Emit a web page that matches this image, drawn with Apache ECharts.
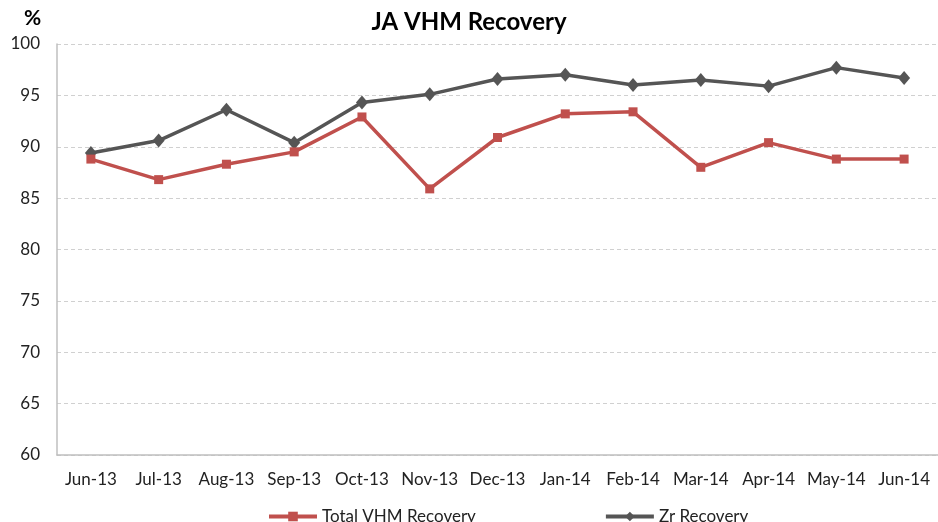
<!DOCTYPE html>
<html>
<head>
<meta charset="utf-8">
<script src="https://cdn.jsdelivr.net/npm/echarts@6/dist/echarts.min.js"></script>
<style>
  html, body { margin: 0; padding: 0; background: #fff; }
  #chart { width: 938px; height: 522px; }
</style>
</head>
<body>
<div id="chart"></div>
<script>
var months = ['Jun-13', 'Jul-13', 'Aug-13', 'Sep-13', 'Oct-13', 'Nov-13', 'Dec-13',
  'Jan-14', 'Feb-14', 'Mar-14', 'Apr-14', 'May-14', 'Jun-14'];
var totalVhm = [88.8, 86.8, 88.3, 89.5, 92.9, 85.9, 90.9, 93.2, 93.4, 88.0, 90.4, 88.8, 88.8];
var zrRecovery = [89.4, 90.6, 93.6, 90.4, 94.3, 95.1, 96.6, 97.0, 96.0, 96.5, 95.9, 97.7, 96.7];

var font = 'Lato';
var chart = echarts.init(document.getElementById('chart'));
chart.setOption({
  animation: false,
  textStyle: { fontFamily: font },
  title: [
    {
      text: 'JA VHM Recovery',
      left: 'center',
      top: 5,
      textStyle: { fontFamily: font, fontSize: 24, fontWeight: 'bold', color: '#000' }
    },
    {
      text: '%',
      left: 19,
      top: 3,
      textStyle: { fontFamily: font, fontSize: 21, fontWeight: 'bold', color: '#000' }
    }
  ],
  grid: { left: 57, top: 44, width: 886, height: 411, containLabel: false },
  legend: {
    left: 262,
    top: 503,
    itemWidth: 48,
    itemHeight: 12,
    itemGap: 128,
    lineStyle: { width: 4 },
    textStyle: { fontFamily: font, fontSize: 17, color: '#222' },
    data: ['Total VHM Recovery', 'Zr Recovery']
  },
  xAxis: {
    type: 'category',
    data: months,
    boundaryGap: true,
    axisLine: { lineStyle: { color: '#BFBFBF', width: 1.5 } },
    axisTick: { show: false },
    axisLabel: { color: '#222', fontSize: 17, margin: 16, interval: 0 },
    splitLine: { show: false }
  },
  yAxis: {
    type: 'value',
    min: 60,
    max: 100,
    interval: 5,
    axisLine: { show: true, lineStyle: { color: '#BFBFBF', width: 1.5 } },
    axisTick: { show: false },
    axisLabel: { color: '#222', fontSize: 17, margin: 17 },
    splitLine: { lineStyle: { color: '#D0D0D0', type: [4, 3] } }
  },
  series: [
    {
      name: 'Total VHM Recovery',
      type: 'line',
      data: totalVhm,
      symbol: 'rect',
      symbolSize: 9,
      itemStyle: { color: '#C0504D' },
      lineStyle: { width: 3.5, color: '#C0504D' },
      z: 3
    },
    {
      name: 'Zr Recovery',
      type: 'line',
      data: zrRecovery,
      symbol: 'diamond',
      symbolSize: [12, 14],
      itemStyle: { color: '#555555' },
      lineStyle: { width: 3.5, color: '#555555' },
      z: 2
    }
  ]
});
</script>
</body>
</html>
